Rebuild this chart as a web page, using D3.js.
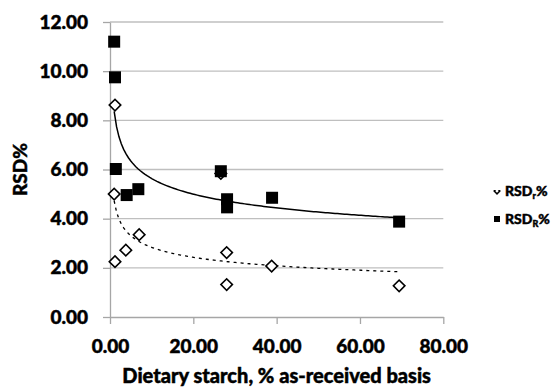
<!DOCTYPE html>
<html>
<head>
<meta charset="utf-8">
<script src="https://cdn.jsdelivr.net/npm/d3@7"></script>
<style>
  body { margin: 0; background: #fff; }
  text { font-family: Lato, 'Open Sans', sans-serif; font-weight: 900; fill: #000; stroke: #000; stroke-width: 0.45px; }
</style>
</head>
<body>
<svg id="chart" width="555" height="387"></svg>
<script>
// RSD_R% (reproducibility) - filled squares
const rsdRStarch = [1.0, 1.2, 1.4, 4.0, 6.8, 26.6, 28.1, 28.1, 38.9, 69.4]
const rsdRValues = [11.2, 9.75, 6.02, 4.96, 5.2, 5.93, 4.79, 4.46, 4.85, 3.88]
// RSD_r% (repeatability) - open diamonds
const rsdrStarch = [1.2, 1.0, 1.2, 3.8, 7.0, 26.6, 28.0, 28.0, 38.8, 69.4]
const rsdrValues = [8.62, 5.0, 2.25, 2.72, 3.35, 5.84, 2.62, 1.32, 2.07, 1.27]

const xTicks = [0, 20, 40, 60, 80]
const yTicks = [0, 2, 4, 6, 8, 10, 12]

const PLOT = { left: 110, right: 443.3, top: 22, bottom: 317 }
const TICK = 7

const svg = d3.select('#chart')

const x = d3.scaleLinear().domain([0, 80]).range([PLOT.left, PLOT.right])
const y = d3.scaleLinear().domain([0, 12]).range([PLOT.bottom, PLOT.top])

// power trendline (same as excel: least squares on ln x, ln y)
function powerFit (xs, ys) {
  const lx = xs.map(Math.log)
  const ly = ys.map(Math.log)
  const mx = d3.mean(lx)
  const my = d3.mean(ly)
  const b = d3.sum(lx, (v, i) => (v - mx) * (ly[i] - my)) / d3.sum(lx, v => (v - mx) * (v - mx))
  const a = Math.exp(my - b * mx)
  return { a, b, min: d3.min(xs), max: d3.max(xs) }
}

function trendPoints (fit) {
  const n = 120
  return d3.range(n + 1).map(i => {
    const xv = fit.min + (fit.max - fit.min) * i / n
    return [xv, fit.a * Math.pow(xv, fit.b)]
  })
}

// gridlines
svg.append('g')
  .selectAll('line')
  .data(yTicks.filter(d => d > 0))
  .join('line')
  .attr('x1', PLOT.left)
  .attr('x2', PLOT.right)
  .attr('y1', d => y(d))
  .attr('y2', d => y(d))
  .attr('stroke', '#bfbfbf')
  .attr('stroke-width', 1.3)

// y axis
const yAxis = svg.append('g')
  .attr('transform', `translate(${PLOT.left},0)`)
  .call(d3.axisLeft(y).tickValues(yTicks).tickSize(TICK).tickSizeOuter(0).tickPadding(15).tickFormat(d3.format('.2f')))
yAxis.select('.domain').attr('stroke', '#a6a6a6').attr('stroke-width', 1.3)
yAxis.selectAll('.tick line').attr('stroke', '#a6a6a6').attr('stroke-width', 1.3)
yAxis.selectAll('.tick text').attr('font-size', 19).attr('font-family', null)

// x axis
const xAxis = svg.append('g')
  .attr('transform', `translate(0,${PLOT.bottom})`)
  .call(d3.axisBottom(x).tickValues(xTicks).tickSize(TICK).tickSizeOuter(0).tickFormat(d3.format('.2f')))
xAxis.select('.domain').attr('stroke', '#a6a6a6').attr('stroke-width', 1.3)
xAxis.selectAll('.tick line').attr('stroke', '#a6a6a6').attr('stroke-width', 1.3)
xAxis.selectAll('.tick text').attr('font-size', 19).attr('font-family', null)
  .attr('y', 36).attr('dy', 0)

// trendlines
const line = d3.line().x(d => x(d[0])).y(d => y(d[1]))

svg.append('path')
  .datum(trendPoints(powerFit(rsdrStarch, rsdrValues)))
  .attr('fill', 'none')
  .attr('stroke', '#000')
  .attr('stroke-width', 1.3)
  .attr('stroke-dasharray', '3,4')
  .attr('d', line)

svg.append('path')
  .datum(trendPoints(powerFit(rsdRStarch, rsdRValues)))
  .attr('fill', 'none')
  .attr('stroke', '#000')
  .attr('stroke-width', 1.5)
  .attr('d', line)

// markers
const diamond = d3.symbol().type(d3.symbolSquare).size(66)
svg.append('g')
  .selectAll('path')
  .data(d3.zip(rsdrStarch, rsdrValues))
  .join('path')
  .attr('d', diamond)
  .attr('transform', d => `translate(${x(d[0])},${y(d[1])}) rotate(45)`)
  .attr('fill', '#fff')
  .attr('stroke', '#000')
  .attr('stroke-width', 1.6)

svg.append('g')
  .selectAll('rect')
  .data(d3.zip(rsdRStarch, rsdRValues))
  .join('rect')
  .attr('x', d => x(d[0]) - 6)
  .attr('y', d => y(d[1]) - 6)
  .attr('width', 12)
  .attr('height', 12)
  .attr('fill', '#000')

// axis titles
svg.append('text')
  .attr('x', (PLOT.left + PLOT.right) / 2)
  .attr('y', 383)
  .attr('text-anchor', 'middle')
  .attr('font-size', 20)
  .text('Dietary starch, % as-received basis')

svg.append('text')
  .attr('transform', `translate(27,${(PLOT.top + PLOT.bottom) / 2}) rotate(-90)`)
  .attr('text-anchor', 'middle')
  .attr('font-size', 19)
  .text('RSD%')

// legend
const legend = svg.append('g').attr('transform', 'translate(497,0)')

// the legend diamond is only half visible in the original
legend.append('clipPath').attr('id', 'legend-clip')
  .append('rect').attr('x', -6).attr('y', 190).attr('width', 12).attr('height', 8)

legend.append('g')
  .attr('clip-path', 'url(#legend-clip)')
  .append('path')
  .attr('d', d3.symbol().type(d3.symbolSquare).size(16))
  .attr('transform', 'translate(0,191) rotate(45)')
  .attr('fill', '#fff')
  .attr('stroke', '#000')
  .attr('stroke-width', 1.5)

legend.append('rect')
  .attr('x', -3)
  .attr('y', 216)
  .attr('width', 6)
  .attr('height', 6)
  .attr('fill', '#000')

const legendItems = [
  { y: 196, sub: 'r' },
  { y: 224, sub: 'R' }
]
legendItems.forEach(item => {
  const t = legend.append('text')
    .attr('x', 8)
    .attr('y', item.y)
    .attr('font-size', 14)
  t.append('tspan').text('RSD')
  t.append('tspan').attr('font-size', 9).attr('dy', 3).text(item.sub)
  t.append('tspan').attr('dy', -3).text('%')
})
</script>
</body>
</html>
